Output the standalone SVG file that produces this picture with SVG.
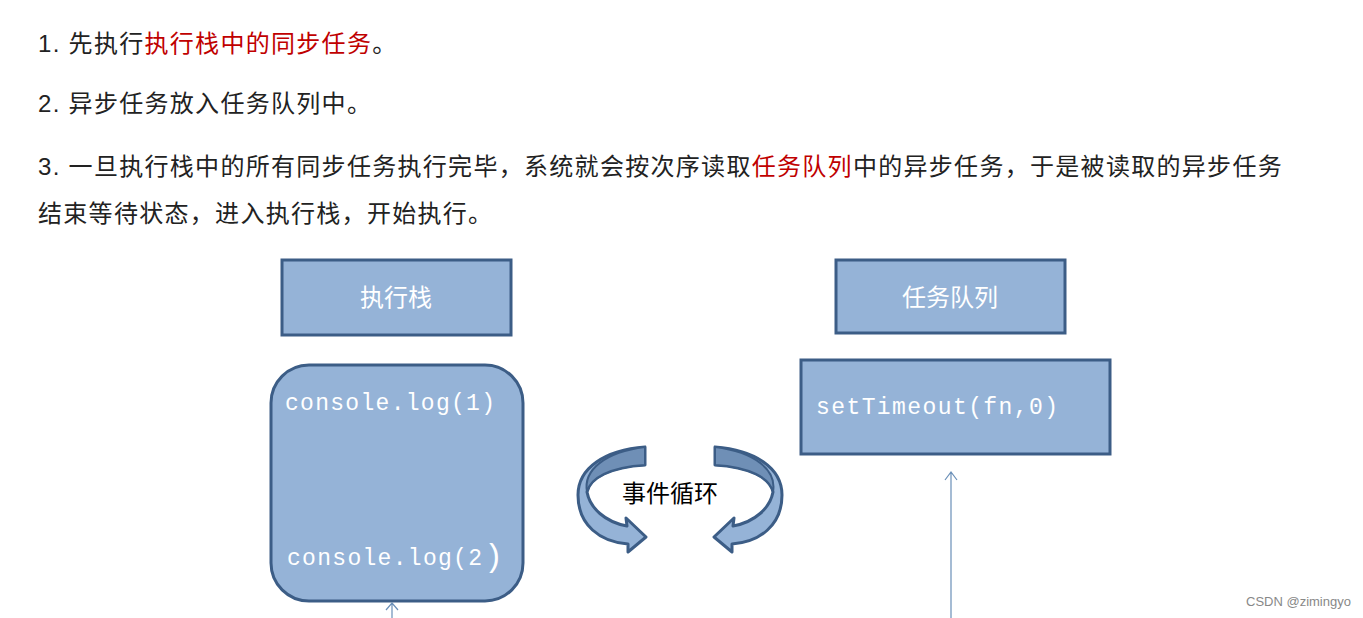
<svg xmlns="http://www.w3.org/2000/svg" width="1363" height="618" viewBox="0 0 1363 618">
<style>
.t{font-family:"Liberation Sans","Noto Sans CJK SC",sans-serif;font-size:24px;letter-spacing:1.3px;fill:#222}
.r{fill:#c00000}
.box{fill:#95b3d7;stroke:#3c5d86;stroke-width:3}
.lbl{font-family:"Liberation Sans","Noto Sans CJK SC",sans-serif;font-size:24px;fill:#fff;text-anchor:middle}
.mono{font-family:"Liberation Mono",monospace;font-size:23px;fill:#fff}
.ln{stroke:#6a8fb8;stroke-width:1.2;fill:none}
.arr{fill:#95b3d7;stroke:#3c5d86;stroke-width:3;stroke-linejoin:round}
</style>
<rect width="1363" height="618" fill="#fff"/>
<g id="text">
<text class="t" x="38" y="52">1. 先执行<tspan class="r">执行栈中的同步任务</tspan>。</text>
<text class="t" x="38" y="112">2. 异步任务放入任务队列中。</text>
<text class="t" x="38" y="175">3. 一旦执行栈中的所有同步任务执行完毕，系统就会按次序读取<tspan class="r">任务队列</tspan>中的异步任务，于是被读取的异步任务</text>
<text class="t" x="38" y="222">结束等待状态，进入执行栈，开始执行。</text>
</g>
<g id="stackLabel"><rect class="box" x="282" y="260" width="229" height="75"/><text class="lbl" x="396" y="306">执行栈</text></g>
<g id="queueLabel"><rect class="box" x="836" y="260" width="229" height="73"/><text class="lbl" x="950" y="306">任务队列</text></g>
<g id="stack"><rect class="box" x="271" y="365" width="252" height="236" rx="38"/>
<text class="mono" x="285" y="410" textLength="210">console.log(1)</text>
<text class="mono" x="287" y="565" textLength="195">console.log(2</text>
<text class="mono" x="484" y="566" style="font-size:32px">)</text></g>
<g id="queue"><rect class="box" x="801" y="360" width="309" height="94"/>
<text class="mono" x="816" y="414" textLength="242">setTimeout(fn,0)</text></g>
<g id="loop">
<path class="arr" d="M645,447 L645,465 C610,467 590,478 587,492 C590,508 605,522 627,526 L626,518 L646,537 L628,552 L628,544 C600,542 578,525 578,495 C578,468 605,450 645,447 Z"/>
<path d="M645,447 L645,465 C610,467 590,478 587,492 C583,470 605,452 645,447 Z" fill="#6f8fb6" stroke="#3c5d86" stroke-width="2"/>
<g transform="translate(1360,0) scale(-1,1)">
<path class="arr" d="M645,447 L645,465 C610,467 590,478 587,492 C590,508 605,522 627,526 L626,518 L646,537 L628,552 L628,544 C600,542 578,525 578,495 C578,468 605,450 645,447 Z"/>
<path d="M645,447 L645,465 C610,467 590,478 587,492 C583,470 605,452 645,447 Z" fill="#6f8fb6" stroke="#3c5d86" stroke-width="2"/>
</g>
<text x="670" y="502" text-anchor="middle" style="font-family:'Liberation Sans','Noto Sans CJK SC',sans-serif;font-size:24px;fill:#000">事件循环</text>
</g>
<g id="connectors">
<path class="ln" d="M392,618 V603 M386,610 L392,603 L398,610"/>
<path class="ln" d="M951,618 V472 M945,480 L951,472 L957,480"/>
</g>
<text x="1246" y="606" style="font-family:'Liberation Sans',sans-serif;font-size:13px;fill:#888">CSDN @zimingyo</text>
</svg>
